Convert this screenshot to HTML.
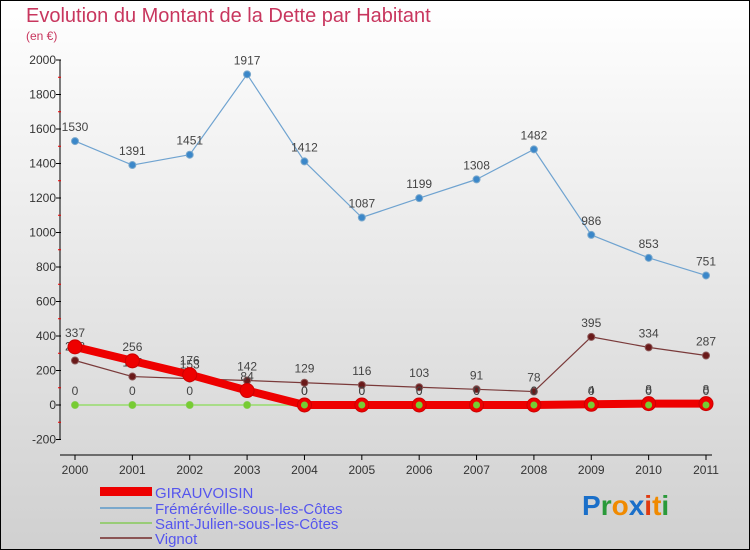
<!DOCTYPE html>
<html><head><meta charset="utf-8"><style>
body{margin:0;width:750px;height:550px;overflow:hidden;font-family:"Liberation Sans",sans-serif}
svg{display:block}
</style></head><body>
<svg id="c" width="750" height="550" xmlns="http://www.w3.org/2000/svg">
<defs><linearGradient id="bg" x1="0" y1="0" x2="0" y2="1"><stop offset="0" stop-color="#ffffff"/><stop offset="1" stop-color="#d0d0d0"/></linearGradient></defs>
<rect x="0.5" y="0.5" width="749" height="549" fill="url(#bg)" stroke="#000"/>
<text x="26" y="22" font-size="20" fill="#c8365e">Evolution du Montant de la Dette par Habitant</text>
<text x="26" y="40" font-size="12" fill="#c8365e">(en €)</text>
<g id="axes"></g><g id="series"></g>
<g font-size="15" fill="#5555ee">
<rect x="100" y="487" width="52" height="9" fill="#ee0000"/>
<text x="155" y="498">GIRAUVOISIN</text>
<rect x="100" y="507" width="52" height="2" fill="#7aa8cc"/>
<text x="155" y="514">Fréméréville-sous-les-Côtes</text>
<rect x="100" y="522" width="52" height="2" fill="#99cc77"/>
<text x="155" y="529">Saint-Julien-sous-les-Côtes</text>
<rect x="100" y="537" width="52" height="2" fill="#8b5555"/>
<text x="155" y="544">Vignot</text>
</g>
<text x="582" y="515" font-size="28" font-weight="bold"><tspan fill="#1a6fc9">P</tspan><tspan fill="#2a9a3a">r</tspan><tspan fill="#f08a00">o</tspan><tspan fill="#1a6fc9">x</tspan><tspan fill="#e03a10">i</tspan><tspan fill="#f08a00">t</tspan><tspan fill="#2a9a3a">i</tspan></text>
</svg>
<script>
const years=[2000,2001,2002,2003,2004,2005,2006,2007,2008,2009,2010,2011];
const girauvoisin=[337,256,176,84,0,0,0,0,0,4,8,8];
const fremereville=[1530,1391,1451,1917,1412,1087,1199,1308,1482,986,853,751];
const saintJulien=[0,0,0,0,0,0,0,0,0,0,0,0];
const vignot=[258,165,153,142,129,116,103,91,78,395,334,287];
const yTicks=[-200,0,200,400,600,800,1000,1200,1400,1600,1800,2000];
const NS="http://www.w3.org/2000/svg";
const X0=75,X1=706,Y0=405,K=345/2000;
const xs=i=>X0+(X1-X0)*i/(years.length-1);
const ys=v=>Y0-v*K;
function mk(t,a,p){const e=document.createElementNS(NS,t);for(const k in a)e.setAttribute(k,a[k]);p.appendChild(e);return e;}
const ax=document.getElementById('axes');
let l=mk('line',{x1:60,y1:ys(2000),x2:60,y2:ys(-200)+0,stroke:'#000'},ax);


yTicks.forEach((v,i)=>{
 mk('line',{x1:56,x2:61,y1:ys(v),y2:ys(v),stroke:'#000'},ax);
 if(i<yTicks.length-1)mk('line',{x1:58,x2:61,y1:ys(v+100),y2:ys(v+100),stroke:'#e00'},ax);
 const t=mk('text',{x:56,y:ys(v)+4,'text-anchor':'end','font-size':12,fill:'#333'},ax);
 t.textContent=v;
 
 
});
const xa=mk('line',{x1:60,x2:712,y1:455,y2:455,stroke:'#000'},ax);


years.forEach((y,i)=>{
 mk('line',{x1:xs(i),x2:xs(i),y1:455,y2:460,stroke:'#000'},ax);
 const t=mk('text',{x:xs(i),y:474,'text-anchor':'middle','font-size':12,fill:'#333'},ax);
 t.textContent=y;
 
 
});
const sg=document.getElementById('series');
function series(name,data,color,w,r,dot,dotStroke){
 const g=mk('g',{},sg);
 
 
 const pl=mk('polyline',{points:data.map((v,i)=>xs(i)+','+ys(v)).join(' '),fill:'none',stroke:color,'stroke-width':w,'stroke-linejoin':'round'},g);
 
 
 data.forEach((v,i)=>{
  const c=mk('circle',{cx:xs(i),cy:ys(v),r:r,fill:dot,stroke:dotStroke,'stroke-width':1},g);
  
  
  const t=mk('text',{x:xs(i),y:ys(v)-10,'text-anchor':'middle','font-size':12,fill:'#444'},g);
  t.textContent=v;
  
  
 });
}
series('fremereville',fremereville,'#6fa3d0',1.2,3.5,'#3b87c9','#7aa8cc');
series('vignot',vignot,'#7a3a3a',1.2,3.5,'#6a1a1a','#8b5555');
series('saint-julien',saintJulien,'#a8dc88',2,3.5,'#77cc33','#99cc77');
series('girauvoisin',girauvoisin,'#ee0000',8,7,'#ee0000','#cc0000');
// re-draw green dots on top of red for overlap
saintJulien.forEach((v,i)=>{const c=mk('circle',{cx:xs(i),cy:ys(v),r:3.5,fill:'#77cc33'},sg);
 
 });
</script>
</body></html>
